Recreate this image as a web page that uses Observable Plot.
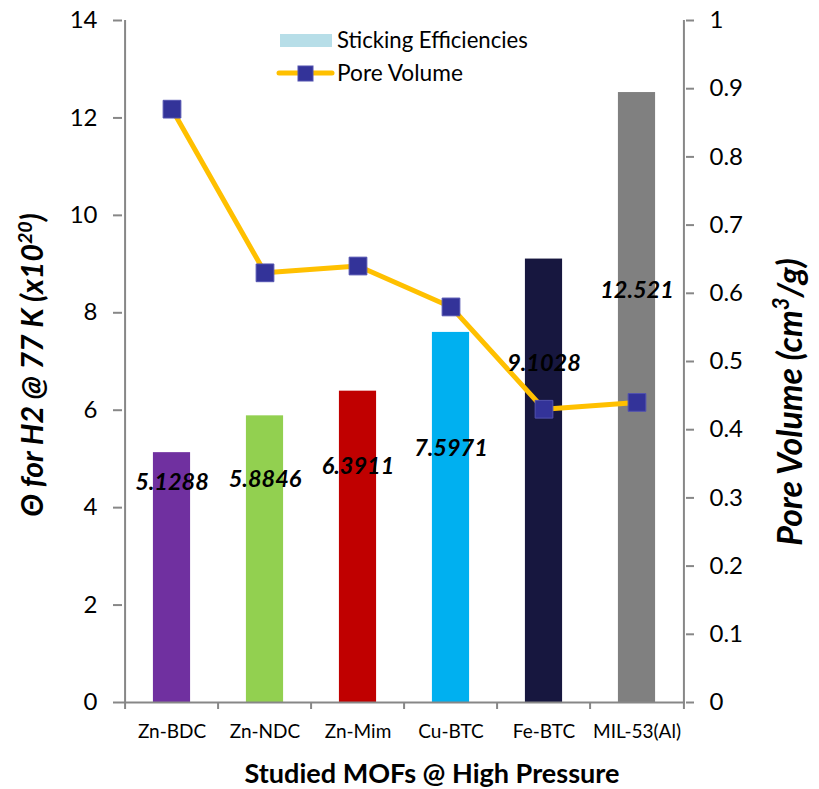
<!DOCTYPE html>
<html><head><meta charset="utf-8">
<script src="https://cdn.jsdelivr.net/npm/d3@7"></script>
<script src="https://cdn.jsdelivr.net/npm/@observablehq/plot@0.6"></script>
<style>
body{margin:0;background:#fff;}
#wrap{width:819px;height:789px;}
</style></head><body><div id="wrap"></div>
<script>
// ---- data ----
const mofs = ["Zn-BDC", "Zn-NDC", "Zn-Mim", "Cu-BTC", "Fe-BTC", "MIL-53(Al)"];
const stickingEff = [5.1288, 5.8846, 6.3911, 7.5971, 9.1028, 12.521];
const poreVolume = [0.87, 0.63, 0.64, 0.58, 0.43, 0.44];
const barColors = ["#7030A0", "#92D050", "#C00000", "#00B0F0", "#17173F", "#808080"];
const labelAt = [4.52, 4.58, 4.84, 5.21, 6.96, 8.46]; // where each value label sits (left-axis units)
const leftTicks = [0, 2, 4, 6, 8, 10, 12, 14];
const rightTicks = [0, 0.1, 0.2, 0.3, 0.4, 0.5, 0.6, 0.7, 0.8, 0.9, 1];
const leftMax = 14, rightMax = 1;

const W = 819, H = 789, mL = 122, mR = 134, mT = 20, mB = 87;
const bw = (W - mL - mR) / mofs.length;
const barW = 38;
const axisColor = "#878787";
const font = "Lato, 'Open Sans', sans-serif";
const toLeft = v => v * leftMax / rightMax;

const data = mofs.map((m, i) => ({mof: m, se: stickingEff[i], pv: poreVolume[i], color: barColors[i], lab: labelAt[i]}));

const chart = Plot.plot({
  width: W, height: H,
  marginLeft: mL, marginRight: mR, marginTop: mT, marginBottom: mB,
  style: {fontFamily: font, background: "white", color: "#000"},
  x: {domain: mofs, padding: 0, axis: null},
  y: {domain: [0, leftMax], axis: null},
  color: {type: "identity"},
  marks: [
    Plot.barY(data, {x: "mof", y: "se", fill: "color", insetLeft: (bw - barW) / 2, insetRight: (bw - barW) / 2}),
    Plot.ruleY([0], {stroke: axisColor, strokeWidth: 2}),
    Plot.ruleX([mofs[0]], {x: d => d, dx: -bw / 2, stroke: axisColor, strokeWidth: 2}),
    Plot.ruleX([mofs[mofs.length - 1]], {x: d => d, dx: bw / 2, stroke: axisColor, strokeWidth: 2}),
    Plot.ruleX(mofs, {x: d => d, dx: -bw / 2, y1: 0, y2: 0, insetBottom: -7, stroke: axisColor, strokeWidth: 2}),
    Plot.ruleX([mofs[mofs.length - 1]], {x: d => d, dx: bw / 2, y1: 0, y2: 0, insetBottom: -7, stroke: axisColor, strokeWidth: 2}),
    Plot.axisY({anchor: "left", ticks: leftTicks, tickSize: 9, tickPadding: 16, fontSize: 24, stroke: axisColor, strokeWidth: 2, fill: "#000", label: null}),
    Plot.axisY({anchor: "right", ticks: rightTicks.map(toLeft), tickFormat: d => String(+(d * rightMax / leftMax).toFixed(1)), tickSize: 8, tickPadding: 16, fontSize: 24, stroke: axisColor, strokeWidth: 2, fill: "#000", label: null}),
    Plot.axisX({anchor: "bottom", tickSize: 0, tickPadding: 22, fontSize: 19, fill: "#000", label: null}),
    Plot.line(data, {x: "mof", y: d => toLeft(d.pv), stroke: "#FFC000", strokeWidth: 5}),
    Plot.dot(data, {x: "mof", y: d => toLeft(d.pv), symbol: "square", r: 10, fill: "#333399", stroke: "#5252B0", strokeWidth: 1}),
    Plot.text(data, {x: "mof", y: "lab", text: d => String(d.se), fontSize: 23.5, fontWeight: "bold", fontStyle: "italic", fill: "#000"})
  ]
});
document.getElementById("wrap").appendChild(chart);

const svg = d3.select(chart);

// scale a text element's font so it spans the given length
function fitTo(sel, base, length) {
  const n = sel.node();
  const measured = n.getComputedTextLength();
  if (measured > 0) {
    const k = length / measured;
    sel.attr("font-size", base * k);
    sel.selectAll("tspan.sup").attr("font-size", 0.65 * base * k).attr("dy", -0.38 * base * k);
    sel.selectAll("tspan.back").attr("dy", 0.38 * base * k);
  }
}

// axis titles
const lt = svg.append("text").attr("transform", "translate(43,365) rotate(-90)")
  .attr("text-anchor", "middle").attr("font-family", font).attr("font-size", 24)
  .attr("font-weight", "bold").attr("font-style", "italic").attr("fill", "#000");
lt.append("tspan").text("Θ for H2 @ 77 K (x10");
lt.append("tspan").attr("class", "sup").attr("font-size", 16).attr("dy", -9).text("20");
lt.append("tspan").attr("class", "back").attr("dy", 9).text(")");
fitTo(lt, 24, 304);

const rt = svg.append("text").attr("transform", "translate(802,402) rotate(-90)")
  .attr("text-anchor", "middle").attr("font-family", font).attr("font-size", 24)
  .attr("font-weight", "bold").attr("font-style", "italic").attr("fill", "#000");
rt.append("tspan").text("Pore Volume (cm");
rt.append("tspan").attr("class", "sup").attr("font-size", 16).attr("dy", -9).text("3");
rt.append("tspan").attr("class", "back").attr("dy", 9).text("/g)");
fitTo(rt, 24, 288);

const xt = svg.append("text").attr("x", 432).attr("y", 783).attr("text-anchor", "middle")
  .attr("font-family", font).attr("font-size", 24).attr("font-weight", "bold").attr("fill", "#000")
  .text("Studied MOFs @ High Pressure");
fitTo(xt, 24, 375);

// legend
const lg = svg.append("g").attr("text-anchor", "start");
lg.append("rect").attr("x", 280).attr("y", 34).attr("width", 52).attr("height", 13).attr("fill", "#B7DEE8");
const l1 = lg.append("text").attr("x", 337).attr("y", 48).attr("font-family", font).attr("font-size", 20).attr("fill", "#000").text("Sticking Efficiencies");
fitTo(l1, 20, 191);
lg.append("line").attr("x1", 279).attr("x2", 332).attr("y1", 73).attr("y2", 73).attr("stroke", "#FFC000").attr("stroke-width", 5).attr("stroke-linecap", "round");
lg.append("rect").attr("x", 298).attr("y", 66).attr("width", 15).attr("height", 15).attr("fill", "#333399").attr("stroke", "#5252B0");
const l2 = lg.append("text").attr("x", 337).attr("y", 81).attr("font-family", font).attr("font-size", 20).attr("fill", "#000").text("Pore Volume");
fitTo(l2, 20, 126);
</script>
</body></html>
